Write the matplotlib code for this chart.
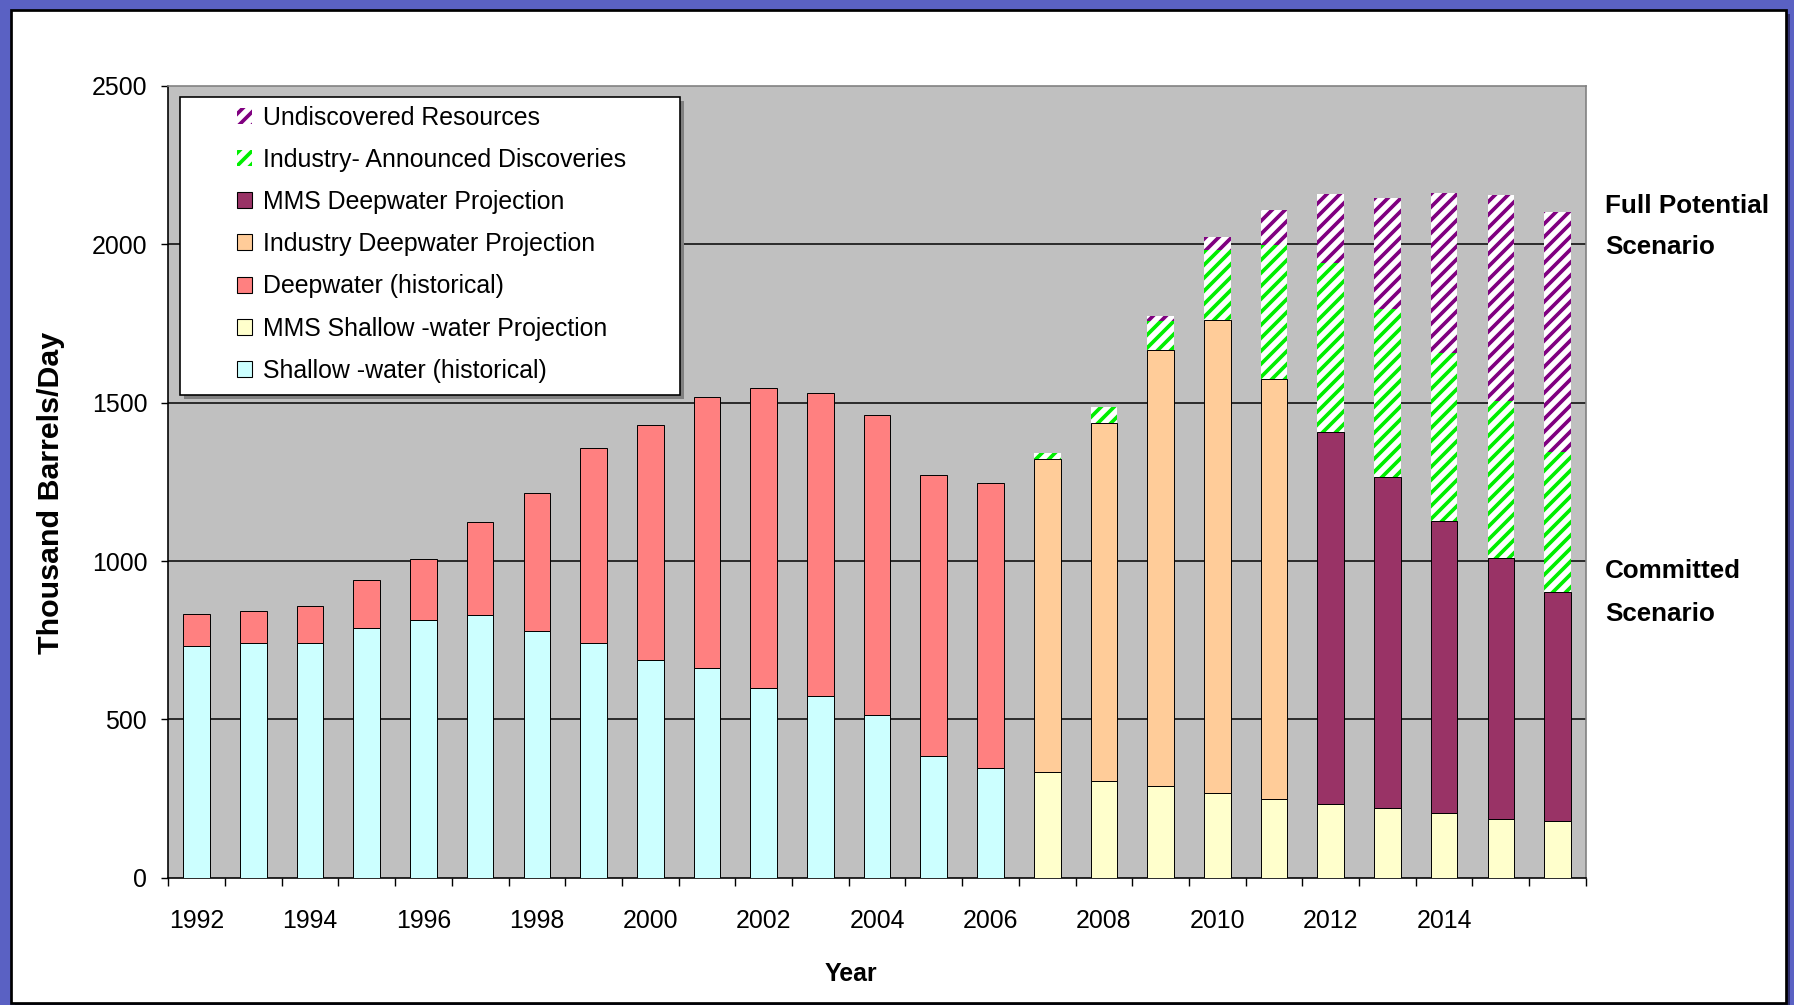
import matplotlib
matplotlib.use('Agg')
import matplotlib.pyplot as plt
import numpy as np
from matplotlib.patches import Rectangle, Patch
from matplotlib.font_manager import FontProperties

# ---------------- data ----------------
years = list(range(1992, 2017))
hist_years = list(range(1992, 2007))
proj_years = list(range(2007, 2017))
industry_years = list(range(2007, 2012))
mms_deep_years = list(range(2012, 2017))

shallow_hist = [731, 742, 742, 789, 815, 831, 780, 740, 689, 663, 600, 573, 513, 386, 346]
deep_hist = [103, 99, 115, 152, 191, 291, 434, 616, 741, 856, 945, 957, 948, 886, 900]
mms_shallow = [333, 306, 290, 267, 248, 232, 221, 205, 186, 179]
industry_deep = [988, 1129, 1376, 1494, 1327]
mms_deep = [1176, 1043, 921, 824, 722]
announced = [21, 52, 93, 220, 424, 534, 531, 531, 494, 442]
undiscovered = [0, 0, 16, 41, 108, 218, 352, 504, 650, 759]

tick_years = [str(y) for y in range(1992, 2016, 2)]
yticks = [0, 500, 1000, 1500, 2000, 2500]

labels = ['Undiscovered Resources', 'Industry- Announced Discoveries',
          'MMS Deepwater Projection', 'Industry Deepwater Projection',
          'Deepwater (historical)', 'MMS Shallow -water Projection',
          'Shallow -water (historical)']

# ---------------- style ----------------
C_SHALLOW = '#ccffff'
C_DEEP = '#ff8080'
C_MMS_SH = '#ffffcc'
C_IND_DEEP = '#ffcc99'
C_MMS_DEEP = '#993366'
C_GREEN = '#00ee00'
C_PURPLE = '#800080'

DPI = 78
plt.rcParams['hatch.linewidth'] = 3.4
narrow = ['Liberation Sans Narrow', 'Liberation Sans', 'DejaVu Sans']
boldfam = ['Liberation Sans', 'DejaVu Sans']

fig = plt.figure(figsize=(1794 / DPI, 1005 / DPI), dpi=DPI, facecolor='#5a61c3')

panel_shadow = Rectangle((0.0085, -0.002), 0.9891, 0.988, transform=fig.transFigure,
                         facecolor='#303070', edgecolor='none', zorder=-2)
panel = Rectangle((0.0064, 0.002), 0.9891, 0.988, transform=fig.transFigure,
                  facecolor='white', edgecolor='black', linewidth=2.5, zorder=-1)
fig.patches.extend([panel_shadow, panel])

ax = fig.add_axes([0.0938, 0.1265, 0.7902, 0.7881])
ax.set_zorder(1)
ax.set_facecolor('#c0c0c0')

pos = {y: i for i, y in enumerate(years)}
W = 0.47

xh = [pos[y] for y in hist_years]
xp = [pos[y] for y in proj_years]
xi = [pos[y] for y in industry_years]
xm = [pos[y] for y in mms_deep_years]

solid = dict(width=W, edgecolor='black', linewidth=0.9, zorder=3)
ax.bar(xh, shallow_hist, color=C_SHALLOW, **solid)
ax.bar(xh, deep_hist, bottom=shallow_hist, color=C_DEEP, **solid)
ax.bar(xp, mms_shallow, color=C_MMS_SH, **solid)
ax.bar(xi, industry_deep, bottom=mms_shallow[:5], color=C_IND_DEEP, **solid)
ax.bar(xm, mms_deep, bottom=mms_shallow[5:], color=C_MMS_DEEP, **solid)

committed = np.array(mms_shallow) + np.array(industry_deep + [0] * 5) + np.array([0] * 5 + mms_deep)
ax.bar(xp, announced, bottom=committed, width=W, color='white', edgecolor=C_GREEN,
       hatch='//', linewidth=0, zorder=3)
ax.bar(xp, undiscovered, bottom=committed + np.array(announced), width=W, color='white',
       edgecolor=C_PURPLE, hatch='//', linewidth=0, zorder=3)

for v in yticks[1:-1]:
    ax.axhline(v, color='black', linewidth=1.4, zorder=1)

ax.set_xlim(-0.5, len(years) - 0.5)
ax.set_ylim(0, 2500)

tick_fp = FontProperties(family=narrow, size=23)
ax.set_yticks(yticks)
ax.set_yticklabels([str(v) for v in yticks], fontproperties=tick_fp)
ax.tick_params(axis='y', length=6.5, width=1.3, pad=13, color='black')

ax.set_xticks([pos[int(t)] for t in tick_years])
ax.set_xticklabels(tick_years, fontproperties=tick_fp)
ax.set_xticks(np.arange(-0.5, len(years), 1), minor=True)
ax.tick_params(axis='x', which='major', length=0, pad=28.5)
ax.tick_params(axis='x', which='minor', length=7.5, width=1.3, color='black')

for s in ['top', 'right']:
    ax.spines[s].set_color('#808080')
    ax.spines[s].set_linewidth(1.5)
for s in ['left', 'bottom']:
    ax.spines[s].set_color('black')
    ax.spines[s].set_linewidth(1.5)

# legend box (Excel-like) with shadow
lb = Rectangle((0.0083, 0.61), 0.3527, 0.376, transform=ax.transAxes, facecolor='white',
               edgecolor='black', linewidth=1.5, zorder=6)
lbs = Rectangle((0.0083 + 0.003, 0.61 - 0.0055), 0.3527, 0.376, transform=ax.transAxes,
                facecolor='#808080', edgecolor='none', zorder=5)
ax.add_patch(lbs)
ax.add_patch(lb)

handles = [
    Patch(facecolor='white', edgecolor=C_PURPLE, hatch='//', linewidth=0),
    Patch(facecolor='white', edgecolor=C_GREEN, hatch='//', linewidth=0),
    Patch(facecolor=C_MMS_DEEP, edgecolor='black', linewidth=1),
    Patch(facecolor=C_IND_DEEP, edgecolor='black', linewidth=1),
    Patch(facecolor=C_DEEP, edgecolor='black', linewidth=1),
    Patch(facecolor=C_MMS_SH, edgecolor='black', linewidth=1),
    Patch(facecolor=C_SHALLOW, edgecolor='black', linewidth=1),
]
leg = ax.legend(handles, labels, loc='upper left', bbox_to_anchor=(0.0485, 0.975),
                frameon=False, borderpad=0, borderaxespad=0, handlelength=0.6,
                handleheight=0.62, handletextpad=0.45, labelspacing=0.73,
                prop=FontProperties(family=narrow, size=23))
leg.set_zorder(7)

bold_fp = dict(family=boldfam, fontweight='bold')
fig.text(0.0287, 0.51, 'Thousand Barrels/Day', rotation=90, ha='center', va='center',
         fontsize=28, **bold_fp)
fig.text(0.4745, 0.031, 'Year', ha='center', va='center', fontsize=23, **bold_fp)
fig.text(0.8947, 0.795, 'Full Potential', ha='left', va='center', fontsize=24, **bold_fp)
fig.text(0.8947, 0.754, 'Scenario', ha='left', va='center', fontsize=24, **bold_fp)
fig.text(0.8947, 0.432, 'Committed', ha='left', va='center', fontsize=24, **bold_fp)
fig.text(0.8947, 0.389, 'Scenario', ha='left', va='center', fontsize=24, **bold_fp)

fig.savefig('out.png', dpi=DPI, facecolor=fig.get_facecolor())
